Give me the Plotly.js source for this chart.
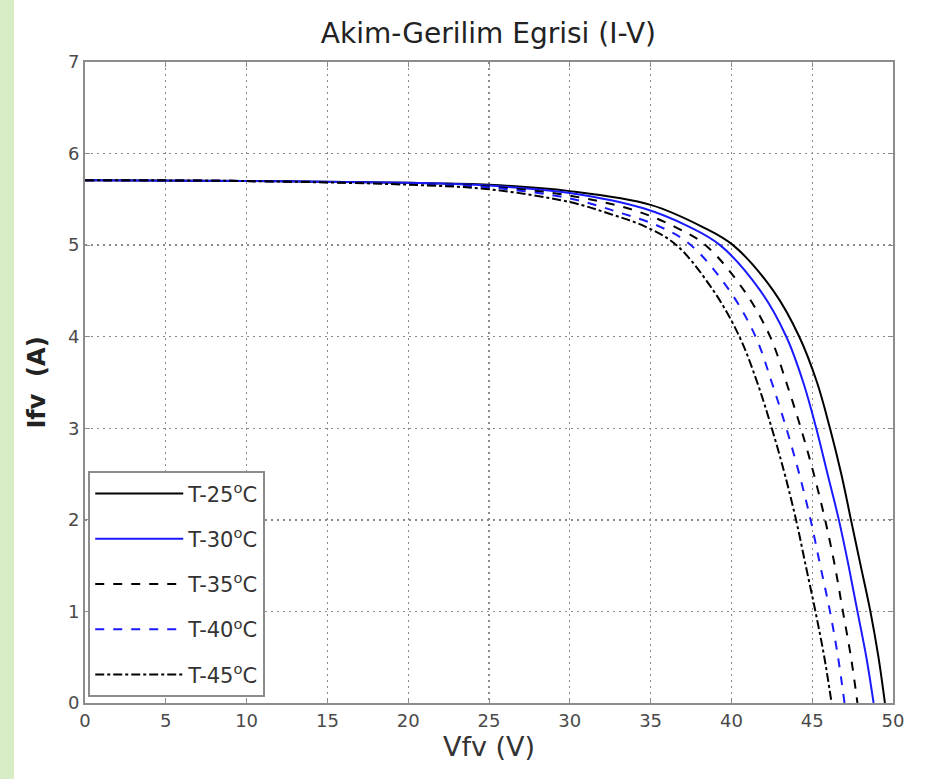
<!DOCTYPE html>
<html>
<head>
<meta charset="utf-8">
<script src="https://cdn.plot.ly/plotly-3.0.1.min.js"></script>
<style>
html,body{margin:0;padding:0;background:#fff;}
#wrap{position:relative;width:925px;height:779px;}
#strip{position:absolute;left:0;top:0;width:14px;height:779px;background:#d8ecc6;z-index:5;}
#chart{position:absolute;left:0;top:0;width:925px;height:779px;}
</style>
</head>
<body>
<div id="wrap"><div id="strip"></div><div id="chart"></div></div>
<script>
// Values (V in volts, I in amps)
const names = ["T-25<sup>o</sup>C","T-30<sup>o</sup>C","T-35<sup>o</sup>C","T-40<sup>o</sup>C","T-45<sup>o</sup>C"];

const v25 = [0, 10, 20, 25, 30, 35.0, 38.2, 40.1, 42.6, 44.2, 45.3, 46.1, 46.8, 47.4, 48.0, 48.6, 49.1, 49.5];
const i25 = [5.71, 5.70, 5.68, 5.66, 5.59, 5.44, 5.20, 5.00, 4.50, 4.00, 3.50, 3.00, 2.50, 2.00, 1.50, 1.00, 0.50, 0.00];

const v30 = [0, 10, 20, 25, 30, 34.6, 37.4, 39.3, 41.8, 43.4, 44.45, 45.25, 45.95, 46.65, 47.25, 47.8, 48.35, 48.8];
const i30 = [5.71, 5.70, 5.68, 5.65, 5.57, 5.40, 5.20, 5.00, 4.50, 4.00, 3.50, 3.00, 2.50, 2.00, 1.50, 1.00, 0.50, 0.00];

const v35 = [0, 10, 20, 25, 30, 34.0, 36.5, 38.4, 40.8, 42.4, 43.4, 44.3, 45.1, 45.8, 46.4, 46.9, 47.4, 47.8];
const i35 = [5.71, 5.70, 5.67, 5.64, 5.54, 5.38, 5.20, 5.00, 4.50, 4.00, 3.50, 3.00, 2.50, 2.00, 1.50, 1.00, 0.50, 0.00];

const v40 = [0, 10, 20, 25, 30, 33.0, 35.6, 37.5, 39.9, 41.5, 42.5, 43.4, 44.2, 44.9, 45.5, 46.1, 46.6, 47.0];
const i40 = [5.71, 5.70, 5.67, 5.63, 5.51, 5.36, 5.20, 5.00, 4.50, 4.00, 3.50, 3.00, 2.50, 2.00, 1.50, 1.00, 0.50, 0.00];

const v45 = [0, 10, 20, 25, 30, 32.5, 34.7, 36.6, 38.9, 40.5, 41.6, 42.5, 43.3, 44.0, 44.6, 45.2, 45.75, 46.2];
const i45 = [5.71, 5.70, 5.66, 5.61, 5.47, 5.34, 5.20, 5.00, 4.50, 4.00, 3.50, 3.00, 2.50, 2.00, 1.50, 1.00, 0.50, 0.00];

const xTicks = [0,5,10,15,20,25,30,35,40,45,50];
const yTicks = [0,1,2,3,4,5,6,7];

const series = [
  {x:v25, y:i25, color:"#000000", dash:"solid"},
  {x:v30, y:i30, color:"#1a1aff", dash:"solid"},
  {x:v35, y:i35, color:"#000000", dash:"dash"},
  {x:v40, y:i40, color:"#1a1aff", dash:"dash"},
  {x:v45, y:i45, color:"#000000", dash:"dashdot"}
];

const traces = series.map((s, k) => ({
  type: "scatter",
  mode: "lines",
  x: s.x, y: s.y,
  name: names[k],
  legendgroup: "g" + k,
  line: {color: s.color, dash: s.dash, width: 2, shape: "spline", smoothing: 1.0},
  hoverinfo: "x+y"
}));

const FONT = "DejaVu Sans, Verdana, sans-serif";

const axisCommon = {
  showline: true, mirror: "ticks", linecolor: "#8c8c8c", linewidth: 2,
  ticks: "inside", ticklen: 5, tickwidth: 1, tickcolor: "#8c8c8c",
  showgrid: true, gridcolor: "#8a8a8a", gridwidth: 1.3, griddash: "2px,4px",
  zeroline: false,
  tickfont: {family: FONT, size: 18, color: "#4a4a4a"}
};

const layout = {
  width: 925, height: 779,
  margin: {l: 85, r: 32, t: 62, b: 76},
  paper_bgcolor: "#ffffff",
  plot_bgcolor: "#ffffff",
  font: {family: FONT, color: "#222"},
  title: {
    text: "Akim-Gerilim Egrisi (I-V)",
    font: {family: FONT, size: 28, color: "#222"},
    x: 0.528, xanchor: "center", y: 0.958, yanchor: "middle"
  },
  xaxis: Object.assign({}, axisCommon, {
    range: [0, 50], tickvals: xTicks, ticktext: xTicks.map(String),
    title: {text: "Vfv (V)", font: {family: FONT, size: 27, color: "#333"}, standoff: 4}
  }),
  yaxis: Object.assign({}, axisCommon, {
    range: [0, 7], tickvals: yTicks, ticktext: yTicks.map(String),
    title: {text: "<b>Ifv  (A)</b>", font: {family: FONT, size: 24, color: "#222"}, standoff: 16}
  }),
  showlegend: true,
  legend: {
    x: 0.004, y: 0.009, xanchor: "left", yanchor: "bottom",
    bgcolor: "#ffffff", bordercolor: "#8c8c8c", borderwidth: 2,
    font: {family: FONT, size: 21, color: "#333"},
    traceorder: "grouped", tracegroupgap: 15,
    itemwidth: 88
  }
};

Plotly.newPlot("chart", traces, layout, {displayModeBar: false, staticPlot: true});
</script>
</body>
</html>
